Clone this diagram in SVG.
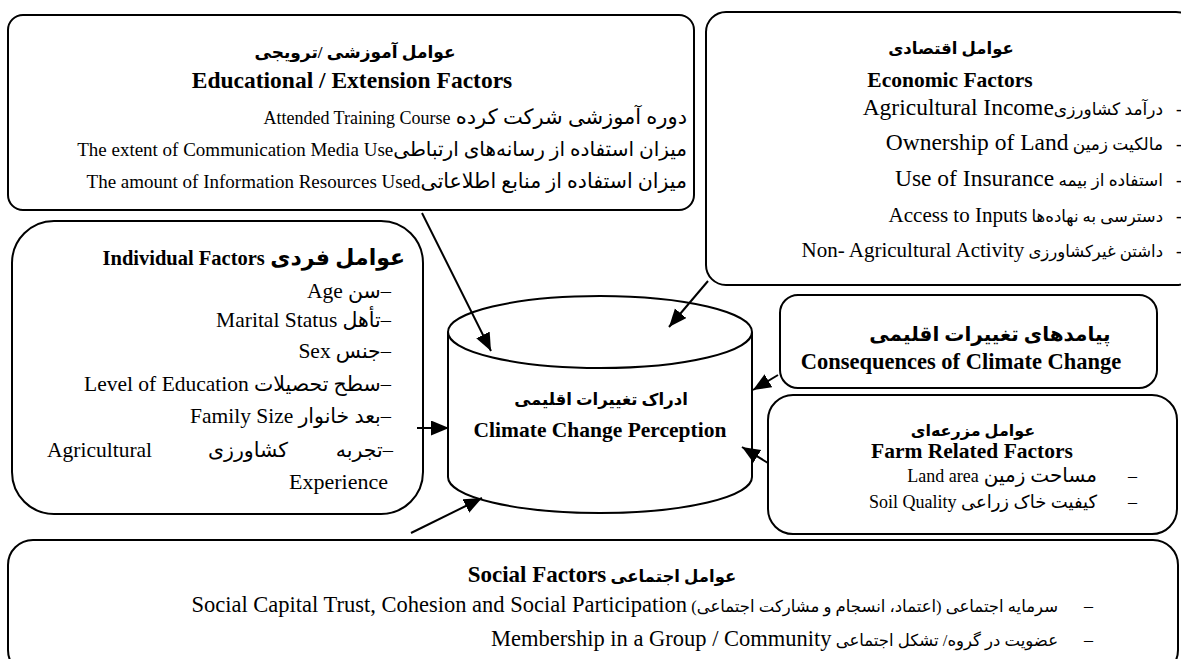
<svg xmlns="http://www.w3.org/2000/svg" width="1181" height="659" viewBox="0 0 1181 659">
<defs>
<marker id="ah" markerUnits="userSpaceOnUse" markerWidth="20" markerHeight="16" refX="18" refY="7.5" orient="auto">
<path d="M0,0 L18,7.5 L0,15 z" fill="#000"/>
</marker>
<style>
text,tspan{font-family:"Liberation Serif","DejaVu Sans",serif;}
text{fill:#000;}
.b{font-weight:bold;}
.r{direction:rtl;unicode-bidi:embed;}
.box{fill:#fff;stroke:#000;stroke-width:2;}
.cn{fill:none;stroke:#000;stroke-width:2;}
.s16{font-size:16px;}.s165{font-size:16.5px;}.s17{font-size:17px;}.s18{font-size:18px;}.s19{font-size:19px;}.s20{font-size:20px;}.s205{font-size:20.5px;}
.s21{font-size:21px;}.s215{font-size:21.5px;}.s22{font-size:22px;}.s225{font-size:22.5px;}.s23{font-size:23px;}.s235{font-size:23.5px;}
</style>
</defs>
<rect width="1181" height="659" fill="#fff"/>

<g id="educational">
<rect class="box" x="8" y="15" width="686" height="195" rx="15"/>
<text class="b r s17" x="355" y="58" text-anchor="middle">عوامل آموزشی /ترویجی</text>
<text class="b s235" x="352" y="88" text-anchor="middle">Educational / Extension Factors</text>
<text class="r s18" x="687" y="124" text-anchor="start"><tspan class="s21">دوره آموزشی شرکت کرده </tspan>Attended Training Course</text>
<text class="r s19" x="687" y="156" text-anchor="start"><tspan class="s20">میزان استفاده از رسانه‌های ارتباطی</tspan>The extent of Communication Media Use</text>
<text class="r s19" x="687" y="188" text-anchor="start"><tspan class="s205">میزان استفاده از منابع اطلاعاتی</tspan>The amount of Information Resources Used</text>
</g>

<g id="economic">
<rect class="box" x="706" y="12" width="490" height="273" rx="20"/>
<text class="b r s165" x="951" y="54" text-anchor="middle">عوامل اقتصادی</text>
<text class="b s215" x="950" y="87" text-anchor="middle">Economic Factors</text>
<text class="r s235" x="1163" y="115" text-anchor="start"><tspan class="s17">درآمد کشاورزی</tspan>Agricultural Income</text>
<text class="r s235" x="1163" y="150" text-anchor="start"><tspan class="s17">مالکیت زمین </tspan>Ownership of Land</text>
<text class="r s235" x="1163" y="186" text-anchor="start"><tspan class="s17">استفاده از بیمه </tspan>Use of Insurance</text>
<text class="r s21" x="1163" y="222" text-anchor="start"><tspan class="s165">دسترسی به نهاده‌ها </tspan>Access to Inputs</text>
<text class="r s21" x="1163" y="257" text-anchor="start"><tspan class="s165">داشتن غیرکشاورزی </tspan>Non- Agricultural Activity</text>
<text class="s18" x="1176" y="115">-</text>
<text class="s18" x="1176" y="150">-</text>
<text class="s18" x="1176" y="186">-</text>
<text class="s18" x="1176" y="222">-</text>
<text class="s18" x="1176" y="257">-</text>
</g>

<g id="individual">
<rect class="box" x="12" y="221" width="411" height="293" rx="42"/>
<text class="b r s205" x="405" y="265" text-anchor="start"><tspan class="s22">عوامل فردی </tspan>Individual Factors</text>
<text class="r s215" x="391" y="298" text-anchor="start"><tspan class="s205">–سن </tspan>Age</text>
<text class="r s215" x="391" y="327" text-anchor="start"><tspan class="s205">–تأهل </tspan>Marital Status</text>
<text class="r s215" x="391" y="358" text-anchor="start"><tspan class="s205">–جنس </tspan>Sex</text>
<text class="r s215" x="391" y="391" text-anchor="start"><tspan class="s205">–سطح تحصیلات </tspan>Level of Education</text>
<text class="r s215" x="391" y="423" text-anchor="start"><tspan class="s205">–بعد خانوار </tspan>Family Size</text>
<text class="r s205" x="393" y="457" text-anchor="start">–تجربه</text>
<text class="r s205" x="288" y="457" text-anchor="start">کشاورزی</text>
<text class="s215" x="47" y="457">Agricultural</text>
<text class="s22" x="388" y="489" text-anchor="end">Experience</text>
</g>

<g id="perception">
<path class="box" d="M448,332 L448,477 A152,36 0 0 0 752,477 L752,332"/>
<ellipse class="box" cx="600" cy="332" rx="152" ry="36"/>
<text class="b r s165" x="601" y="405" text-anchor="middle">ادراک تغییرات اقلیمی</text>
<text class="b s215" x="600" y="437" text-anchor="middle">Climate Change Perception</text>
</g>

<g id="consequences">
<rect class="box" x="780" y="295" width="377" height="93" rx="18"/>
<text class="b r s20" x="990" y="341" text-anchor="middle">پیامدهای تغییرات اقلیمی</text>
<text class="b s225" x="961" y="369" text-anchor="middle">Consequences of Climate Change</text>
</g>

<g id="farm">
<rect class="box" x="768" y="395" width="409" height="139" rx="25"/>
<text class="b r s16" x="973" y="436" text-anchor="middle">عوامل مزرعه‌ای</text>
<text class="b s215" x="972" y="458" text-anchor="middle">Farm Related Factors</text>
<text class="s18" x="1128" y="482">–</text>
<text class="r s18" x="1097" y="482" text-anchor="start"><tspan class="s20">مساحت زمین </tspan>Land area</text>
<text class="s18" x="1128" y="508">–</text>
<text class="r s18" x="1097" y="508" text-anchor="start"><tspan class="s18">کیفیت خاک زراعی </tspan>Soil Quality</text>
</g>

<g id="social">
<rect class="box" x="8" y="540" width="1170" height="135" rx="25"/>
<text class="b r s23" x="602" y="582" text-anchor="middle"><tspan class="s165">عوامل اجتماعی </tspan>Social Factors</text>
<text class="s18" x="1084" y="612">–</text>
<text class="r s225" x="1058" y="612" text-anchor="start"><tspan class="s165">سرمایه اجتماعی (اعتماد، انسجام و مشارکت اجتماعی) </tspan>Social Capital Trust, Cohesion and Social Participation</text>
<text class="s18" x="1084" y="646">–</text>
<text class="r s225" x="1058" y="646" text-anchor="start"><tspan class="s165">عضویت در گروه/ تشکل اجتماعی </tspan>Membership in a Group / Community</text>
</g>

<g id="connectors">
<line class="cn" x1="422" y1="213" x2="491" y2="351" marker-end="url(#ah)"/>
<line class="cn" x1="708" y1="281" x2="669" y2="327" marker-end="url(#ah)"/>
<line class="cn" x1="778" y1="375" x2="753" y2="390" marker-end="url(#ah)"/>
<line class="cn" x1="768" y1="463" x2="742" y2="447" marker-end="url(#ah)"/>
<line class="cn" x1="417" y1="428" x2="449" y2="428" marker-end="url(#ah)"/>
<line class="cn" x1="411" y1="533" x2="482" y2="498" marker-end="url(#ah)"/>
</g>
</svg>
